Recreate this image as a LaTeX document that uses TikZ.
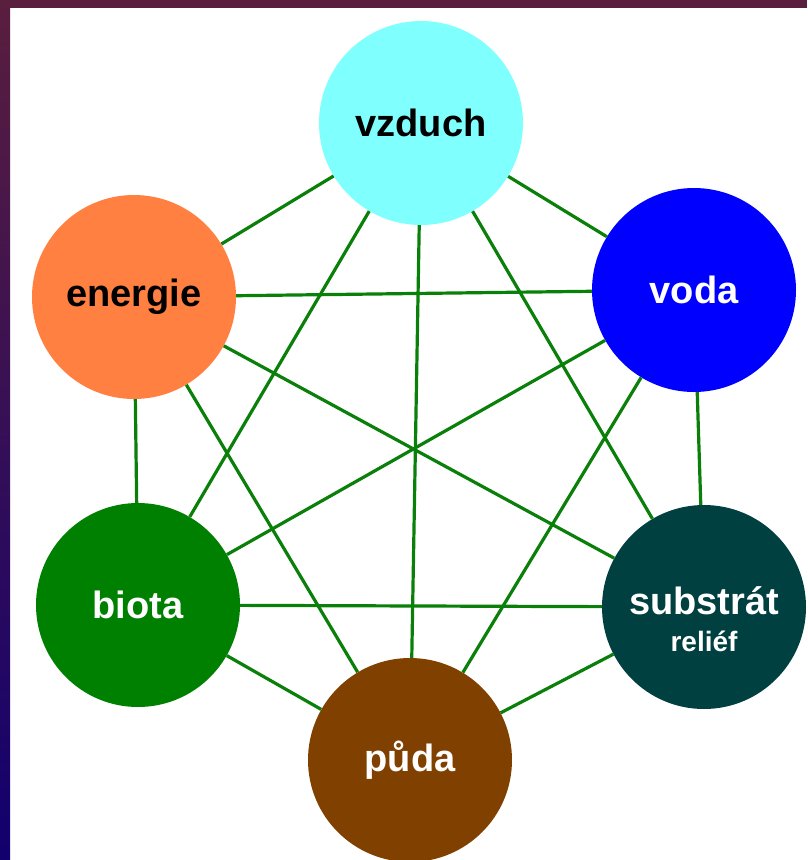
\documentclass[tikz,border=0pt]{standalone}
\usepackage{fontspec}
\setmainfont{Liberation Sans}
\definecolor{airc}{HTML}{80FFFF}
\definecolor{energyc}{HTML}{FF8040}
\definecolor{waterc}{HTML}{0000FF}
\definecolor{biotac}{HTML}{008000}
\definecolor{rockc}{HTML}{004040}
\definecolor{soilc}{HTML}{804000}
\definecolor{linkc}{HTML}{0A800A}
\definecolor{frametop}{HTML}{5A1E3E}
\definecolor{framebot}{HTML}{12006E}
\tikzset{
  sphere/.style={circle, minimum size=204pt, inner sep=0pt, font=\fontsize{38}{40}\selectfont\bfseries, align=center},
  link/.style={draw=linkc, line width=3.2pt}
}
\begin{document}
\begin{tikzpicture}[x=1pt,y=-1pt]
    \fill[white] (0,0) rectangle (807,860);
    \useasboundingbox (0,0) rectangle (807,860);
    \shade[top color=frametop, bottom color=framebot] (0,0) rectangle (10,860);
    \fill[frametop] (0,0) rectangle (807,8);

    \node[sphere, fill=airc] (vzduch) at (421,123) {vzduch};
    \node[sphere, fill=energyc] (energie) at (134,297) {energie};
    \node[sphere, fill=waterc, text=white] (voda) at (694,290) {voda};
    \node[sphere, fill=biotac, text=white] (biota) at (138,605) {biota};
    \node[sphere, fill=rockc, text=white] (substrat) at (704,607) {\rule{0pt}{52pt}substrát\\[-3pt]{\fontsize{28}{30}\selectfont\bfseries reliéf}};
    \node[sphere, fill=soilc, text=white] (puda) at (410,760) {půda};

    \foreach \a/\b in {vzduch/energie, vzduch/voda, vzduch/biota, vzduch/substrat, vzduch/puda,
                       energie/voda, energie/biota, energie/substrat, energie/puda,
                       voda/biota, voda/substrat, voda/puda,
                       biota/substrat, biota/puda, substrat/puda}
        \draw[link] (\a) -- (\b);
\end{tikzpicture}
\end{document}
